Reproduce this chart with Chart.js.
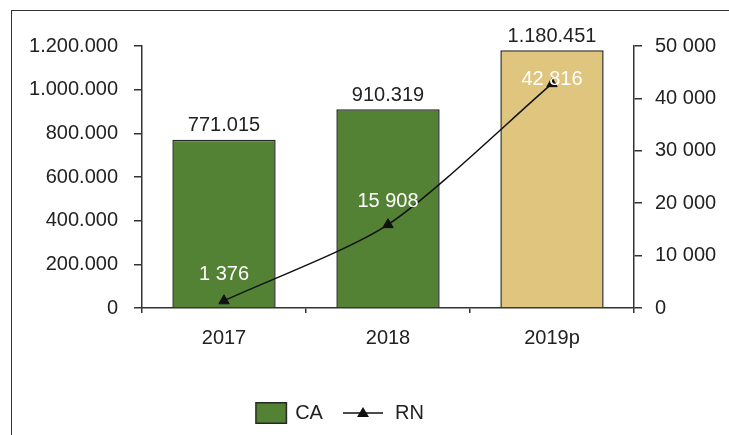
<!DOCTYPE html>
<html>
<head>
<meta charset="utf-8">
<script src="https://cdn.jsdelivr.net/npm/chart.js@4"></script>
<style>
  html, body { margin: 0; padding: 0; background: #fff; overflow: hidden; }
  #wrap { position: relative; width: 729px; height: 435px; }
  #frame { position: absolute; left: 11px; top: 10px; width: 900px; height: 600px; border-left: 1.5px solid #333; border-top: 1.5px solid #333; }
  canvas { position: absolute; left: 0; top: 0; }
</style>
</head>
<body>
<div id="wrap">
  <div id="frame"></div>
  <canvas id="c" width="729" height="435"></canvas>
</div>
<script>
var years = ['2017', '2018', '2019p'];
var caValues = [771015, 910319, 1180451];
var rnValues = [1376, 15908, 42816];
var caTicks = [0, 200000, 400000, 600000, 800000, 1000000, 1200000];
var rnTicks = [0, 10000, 20000, 30000, 40000, 50000];

var GREEN = '#548235';
var GOLD = '#dfc57d';
var INK = '#222';
var FONT = "'Liberation Sans', Arial, sans-serif";

function fmtDot(v){ return String(Math.round(v)).replace(/\B(?=(\d{3})+(?!\d))/g, '.'); }
function fmtSpace(v){ return String(Math.round(v)).replace(/\B(?=(\d{3})+(?!\d))/g, ' '); }

// legend symbols: 80px canvases, symbol placed off-centre to match the original spacing
function legendImg(kind){
    var cv = document.createElement('canvas');
    cv.width = 80; cv.height = 24;
    var g = cv.getContext('2d');
    if(kind === 'bar'){
        g.fillStyle = GREEN;
        g.fillRect(37, 1, 32, 22);
        g.strokeStyle = '#262626';
        g.lineWidth = 1.5;
        g.strokeRect(37.75, 1.75, 30.5, 20.5);
    } else {
        g.strokeStyle = '#111';
        g.lineWidth = 1.5;
        g.beginPath(); g.moveTo(25, 12); g.lineTo(65, 12); g.stroke();
        g.fillStyle = '#111';
        g.beginPath(); g.moveTo(45, 6); g.lineTo(51, 16); g.lineTo(39, 16); g.closePath(); g.fill();
    }
    return cv;
}

var valueLabels = {
    id: 'valueLabels',
    afterLayout: function(chart){
        // legend sits left of centre in the original
        if(chart.legend) chart.legend.right = chart.legend.right - 74;
    },
    afterDatasetsDraw: function(chart){
        var ctx = chart.ctx;
        ctx.save();
        ctx.font = '20px ' + FONT;
        ctx.textAlign = 'center';
        var bars = chart.getDatasetMeta(0).data;
        ctx.textBaseline = 'bottom';
        ctx.fillStyle = INK;
        bars.forEach(function(el, i){
            ctx.fillText(fmtDot(caValues[i]), el.x, el.y - 4);
        });
        var pts = chart.getDatasetMeta(1).data;
        var lift = [26, 23, 4];
        ctx.textBaseline = 'middle';
        ctx.fillStyle = '#fff';
        pts.forEach(function(el, i){
            ctx.fillText(fmtSpace(rnValues[i]), el.x, el.y - lift[i]);
        });
        ctx.restore();
    }
};

Chart.defaults.font.family = FONT;
Chart.defaults.font.size = 20;
Chart.defaults.color = INK;

new Chart(document.getElementById('c').getContext('2d'), {
    type: 'bar',
    data: {
        labels: years,
        datasets: [
            {
                type: 'bar', label: 'CA', data: caValues, yAxisID: 'y', order: 1,
                backgroundColor: [GREEN, GREEN, GOLD], borderColor: '#262626', borderWidth: 1.5,
                categoryPercentage: 1, barPercentage: 0.63
            },
            {
                type: 'line', label: 'RN', data: rnValues, yAxisID: 'y1', order: 0,
                borderColor: '#111', borderWidth: 1.5, tension: 0.25,
                pointStyle: 'triangle', pointRadius: 6, pointBackgroundColor: '#111', pointBorderColor: '#111', pointBorderWidth: 1
            }
        ]
    },
    options: {
        responsive: false,
        animation: false,
        layout: { padding: { left: 0, right: 0, top: 46, bottom: 2 } },
        plugins: {
            tooltip: { enabled: false },
            legend: {
                position: 'bottom',
                labels: {
                    usePointStyle: true,
                    pointStyleWidth: 54,
                    padding: 8,
                    font: { size: 20 },
                    color: INK,
                    generateLabels: function(){
                        return [
                            { text: 'CA', pointStyle: legendImg('bar'), fontColor: INK, datasetIndex: 0, lineWidth: 0, hidden: false },
                            { text: 'RN', pointStyle: legendImg('line'), fontColor: INK, datasetIndex: 1, lineWidth: 0, hidden: false }
                        ];
                    }
                }
            }
        },
        scales: {
            x: {
                offset: true,
                grid: { offset: true, drawOnChartArea: false, drawTicks: true, tickLength: 5, color: '#333', lineWidth: 1.5 },
                border: { display: true, color: '#333', width: 1.5 },
                ticks: { padding: 13, color: INK, font: { size: 20 } },
                afterFit: function(s){ s.height = 87; }
            },
            y: {
                position: 'left',
                min: 0, max: 1200000,
                afterBuildTicks: function(s){ s.ticks = caTicks.map(function(v){ return { value: v }; }); },
                grid: { drawOnChartArea: false, drawTicks: true, tickLength: 8, color: '#333', lineWidth: 1.5 },
                border: { display: true, color: '#333', width: 1.5 },
                ticks: { padding: 16, color: INK, font: { size: 20 }, callback: function(v){ return fmtDot(v); } },
                afterFit: function(s){ s.width = 142; }
            },
            y1: {
                position: 'right',
                min: 0, max: 50000,
                afterBuildTicks: function(s){ s.ticks = rnTicks.map(function(v){ return { value: v }; }); },
                grid: { drawOnChartArea: false, drawTicks: true, tickLength: 8, color: '#333', lineWidth: 1.5 },
                border: { display: true, color: '#333', width: 1.5 },
                ticks: { padding: 13, color: INK, font: { size: 20 }, callback: function(v){ return fmtSpace(v); } },
                afterFit: function(s){ s.width = 95; }
            }
        }
    },
    plugins: [valueLabels]
});
</script>
</body>
</html>
